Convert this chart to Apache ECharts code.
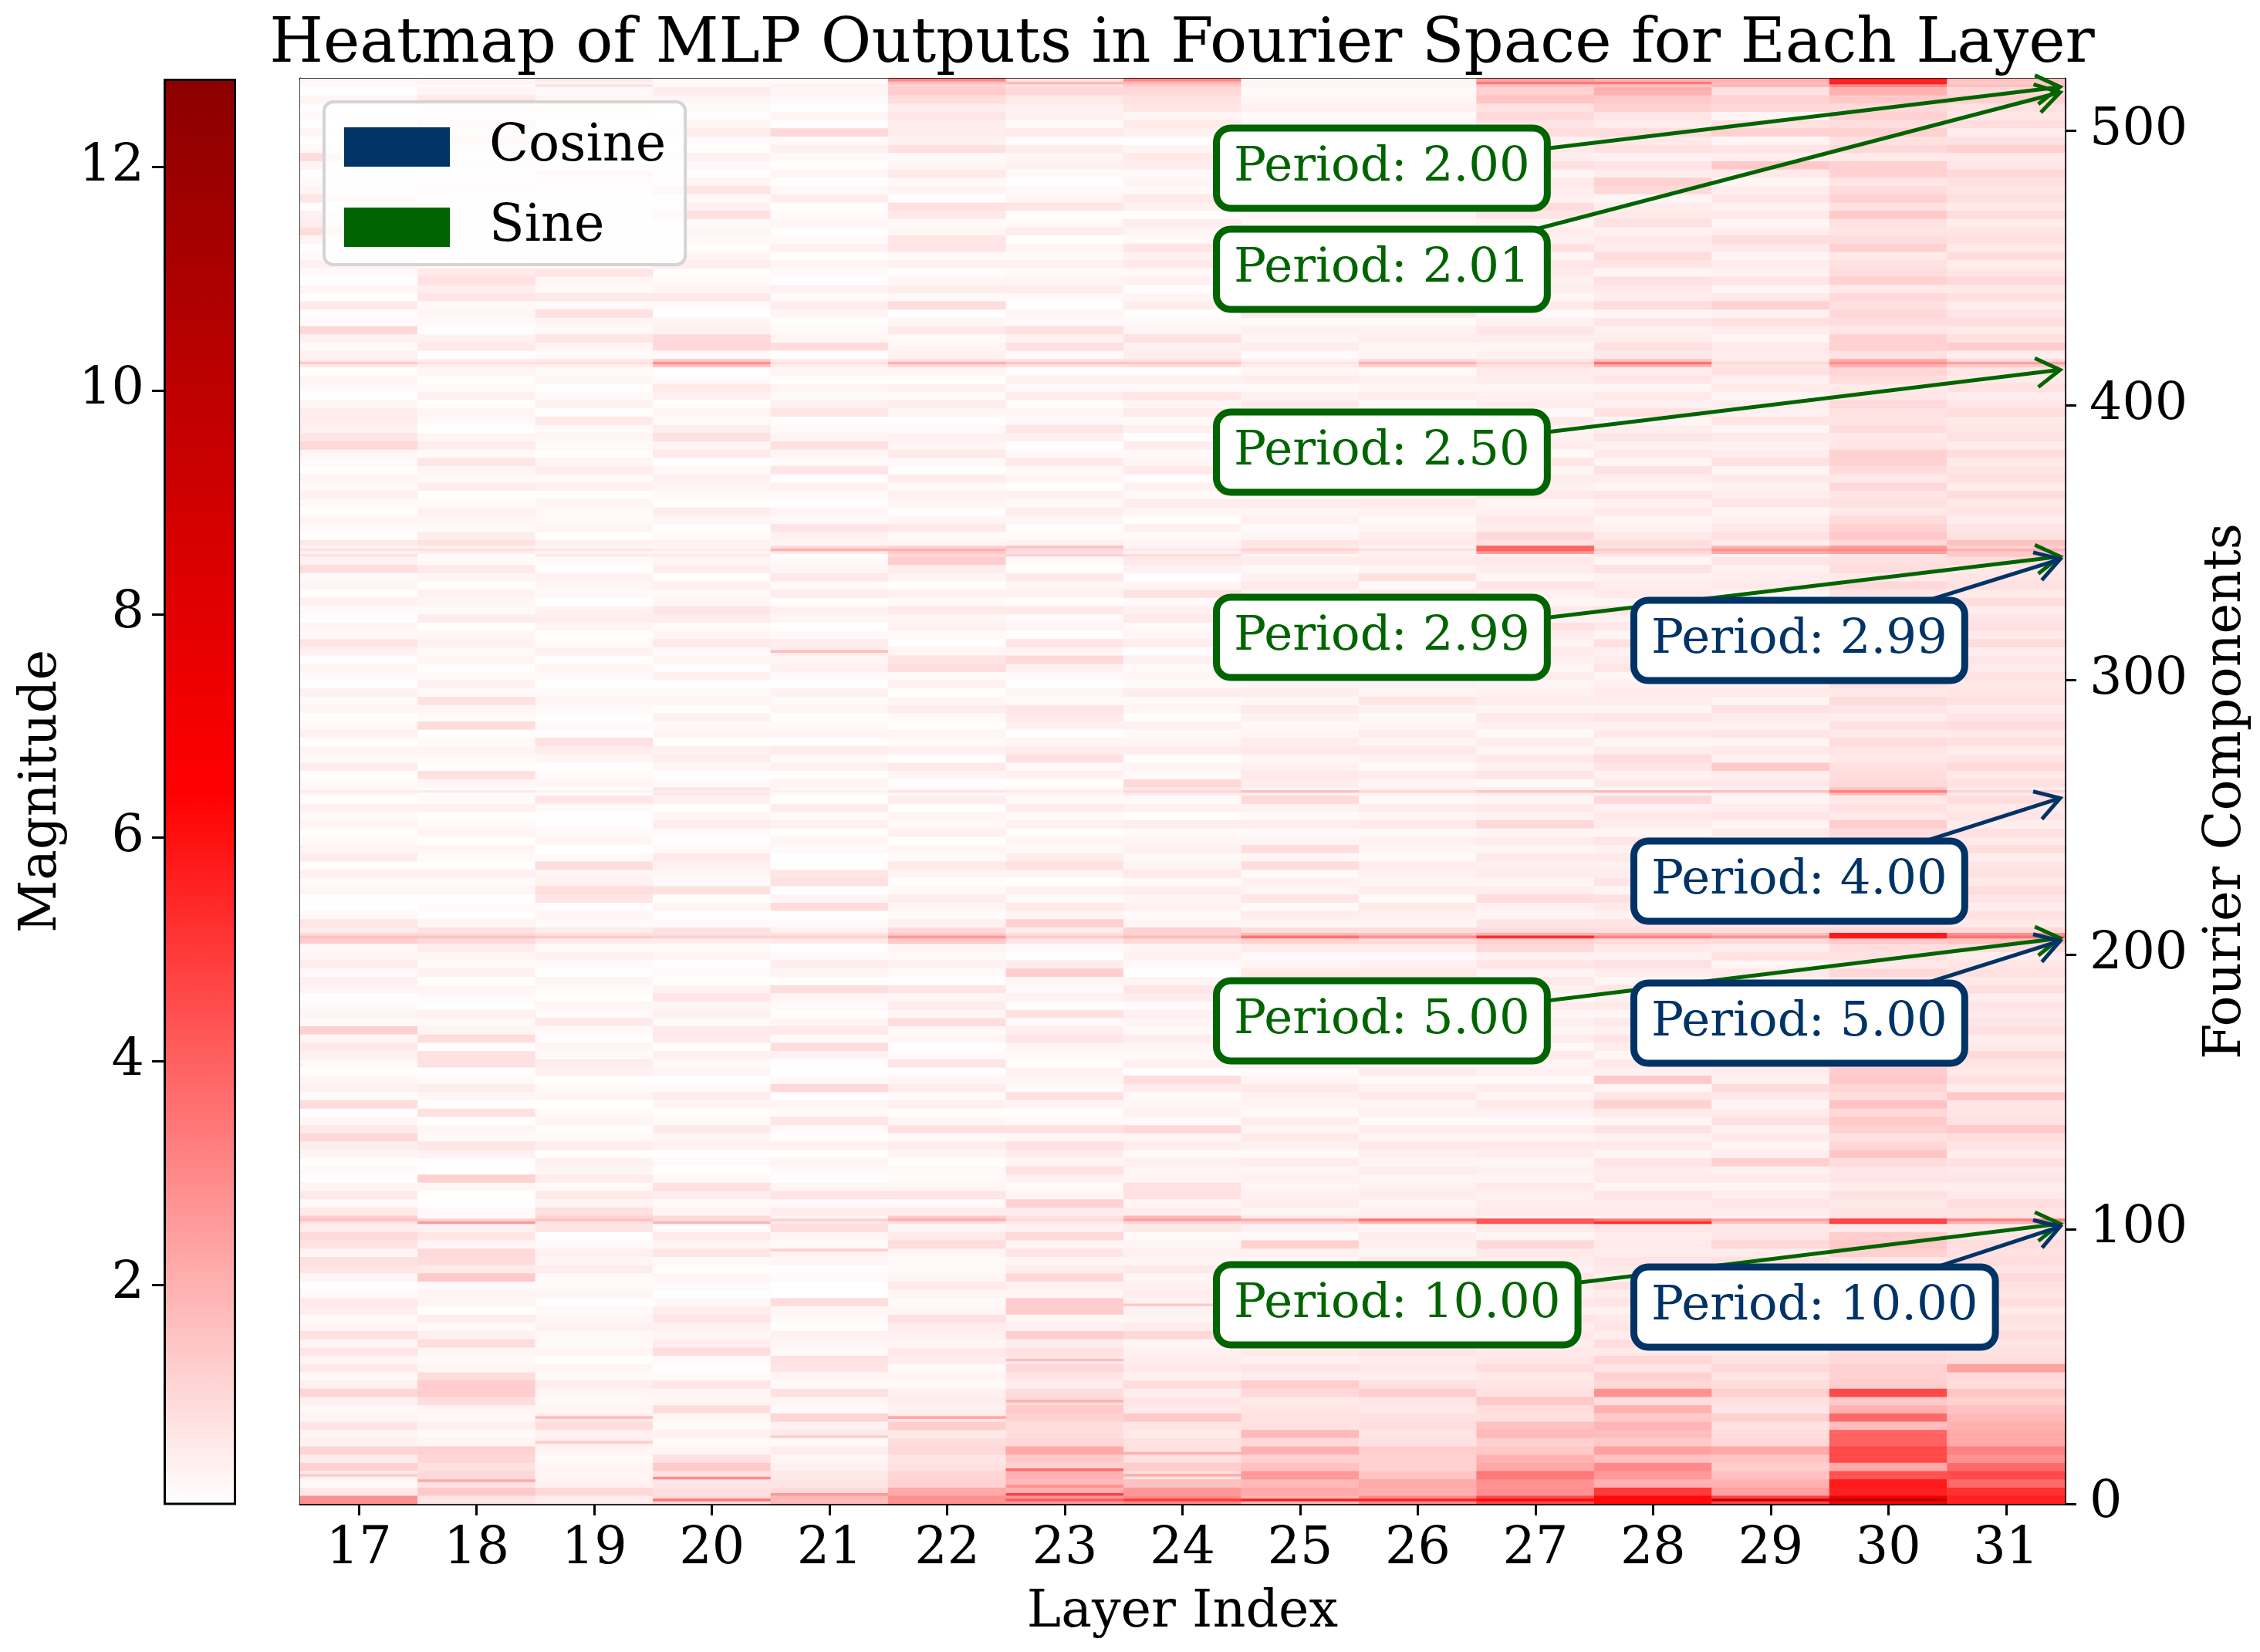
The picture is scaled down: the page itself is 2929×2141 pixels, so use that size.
<!DOCTYPE html>
<html>
<head>
<meta charset="utf-8">
<style>html,body{margin:0;padding:0;background:#fff}</style>
<script src="https://cdn.jsdelivr.net/npm/echarts@6/dist/echarts.min.js"></script>
</head>
<body>
<div id="chart" style="width:2929px;height:2141px"></div>
<script>
// values are read by eye, in tenths of magnitude, one per 3 rows, row 0 first
const layers = [17,18,19,20,21,22,23,24,25,26,27,28,29,30,31]
const layer17 = [
28,6,2,5,12,5,11,4,3,7,3,2,4,11,4,2,6,3,7,3,
8,3,2,5,6,2,1,3,7,8,3,8,10,5,13,6,2,6,3,1,
2,1,3,5,10,6,3,1,9,2,4,3,1,2,4,6,3,12,2,3,
2,1,3,4,2,5,3,2,13,5,7,2,0,1,3,2,4,1,5,3,
2,1,3,2,4,1,3,2,1,5,2,3,1,4,2,1,3,2,4,1,
2,3,1,4,7,2,3,1,2,4,1,3,2,9,4,8,6,1,2,3,
1,2,4,2,3,1,2,3,10,7,4,5,5,3,1,2,3,1,2,4,
2,4,10,2,1,6,1,3,1,2,4,2,1,3,9,5,4,1,7,3,
2,1,3,9,2,1,3,1,2,1,3,1,2]
const layer18 = [
7,14,8,10,8,11,12,3,2,4,2,3,9,13,13,9,3,2,3,9,
4,2,5,1,3,3,2,14,6,9,10,3,7,4,2,2,1,0,3,12,
0,1,4,7,2,3,1,8,1,3,5,2,1,8,8,1,9,3,2,4,
1,2,3,1,4,2,3,5,10,8,3,1,2,1,3,2,4,1,2,3,
1,3,2,1,4,2,1,3,8,1,2,3,2,1,9,2,3,8,2,4,
2,1,3,2,4,3,1,5,2,3,4,1,3,6,2,1,8,5,2,3,
4,2,1,5,2,3,7,2,5,3,1,2,3,1,4,2,1,3,2,1,
6,4,1,2,3,2,7,5,8,6,2,3,1,2,3,1,2,4,2,5,
3,1,4,2,5,8,4,7,3,5,6,3,1]
const layer19 = [
5,10,4,3,3,2,3,5,4,9,5,3,2,3,5,2,3,1,3,2,
2,4,3,2,1,3,2,2,5,3,4,2,0,7,11,8,3,6,2,5,
3,4,1,5,2,1,3,2,0,3,2,1,4,5,2,3,1,2,6,2,
3,1,2,3,1,2,4,2,6,5,2,3,1,7,9,4,3,9,2,0,
3,2,1,0,2,7,1,3,2,1,3,5,8,1,2,1,2,3,2,1,
2,3,1,4,2,1,3,5,4,1,2,3,4,1,2,6,4,1,3,2,
2,3,1,4,2,5,3,1,2,3,2,6,1,4,2,1,3,2,4,2,
3,7,2,3,8,2,6,2,3,7,1,4,2,1,3,1,2,3,1,2,
4,8,1,3,1,2,3,1,2,4,3,2,8]
const layer20 = [
10,8,7,8,14,8,3,2,4,2,3,9,3,3,7,2,1,2,9,5,
3,4,7,5,2,1,2,3,1,2,7,3,6,2,10,3,2,5,8,2,
0,2,1,4,3,6,2,1,3,5,2,1,3,2,4,1,6,6,2,4,
3,7,4,1,2,1,3,2,5,8,2,1,3,1,8,2,3,4,6,2,
1,2,5,3,1,4,7,2,1,3,5,4,1,3,2,4,1,3,2,1,
4,1,3,2,6,3,2,5,7,3,2,4,1,5,3,6,4,2,1,3,
5,1,2,3,4,2,1,6,3,8,5,2,3,1,4,6,2,1,3,2,
10,10,4,3,1,2,6,3,2,1,5,3,1,2,3,2,8,4,2,7,
3,1,2,4,1,2,5,3,1,2,3,5,2]
const layer21 = [
18,10,7,6,4,3,5,2,6,4,11,2,3,8,2,3,7,8,2,3,
4,1,2,3,9,0,0,2,1,3,4,2,3,9,3,5,2,7,3,1,
2,3,1,4,1,2,7,2,3,1,10,2,0,1,4,9,2,6,3,1,
2,3,9,1,3,5,2,1,6,4,2,1,9,3,1,8,7,1,0,2,
3,1,4,2,5,1,2,3,1,4,2,5,1,3,2,1,3,2,4,1,
2,4,3,5,5,2,1,3,4,1,5,2,6,3,2,1,3,4,7,2,
3,1,2,4,1,7,2,3,8,3,2,1,7,4,2,3,1,3,2,1,
9,3,2,1,3,5,2,4,1,2,3,1,4,2,1,3,2,1,5,2,
1,3,1,2,4,2,10,1,3,1,2,3,4]
const layer22 = [
28,22,12,11,8,7,10,9,6,13,6,4,5,4,2,3,2,5,6,3,
4,5,8,3,2,3,6,3,2,2,3,9,6,3,14,5,2,7,3,2,
2,1,3,5,2,8,3,1,4,2,5,3,1,7,2,1,3,2,9,3,
5,3,7,1,2,4,2,3,14,10,4,2,3,5,2,1,3,6,2,3,
1,4,2,3,1,5,2,1,3,6,1,4,2,3,1,2,5,3,1,4,
2,9,7,3,1,2,4,3,6,2,4,1,3,5,13,10,3,2,6,3,
1,3,4,2,5,1,2,6,3,4,2,1,3,5,2,4,1,3,2,4,
3,2,6,3,1,9,2,5,3,1,4,2,7,7,3,2,6,8,1,3,
2,6,3,2,8,4,5,5,7,5,9,13,12]
const layer23 = [
26,20,18,20,12,14,22,10,9,9,12,14,10,9,5,7,10,6,8,5,
13,4,3,13,13,3,4,10,5,3,7,3,10,4,8,5,12,3,2,4,
8,3,5,8,3,8,2,1,3,8,2,3,4,1,2,3,7,5,2,8,
1,4,2,3,13,5,1,2,7,5,12,3,6,2,4,1,3,8,5,2,
3,1,4,2,5,2,3,1,4,2,8,5,3,1,4,6,7,2,3,1,
2,4,10,3,7,1,3,2,6,1,4,3,6,1,2,12,4,2,1,3,
5,2,4,1,3,2,6,2,1,4,7,2,3,1,5,2,4,1,3,2,
8,4,8,2,3,1,2,5,3,2,4,2,3,1,5,2,1,7,3,2,
1,2,4,3,5,1,6,2,4,4,6,10,8]
const layer24 = [
30,26,16,8,13,8,8,8,6,7,14,6,7,5,9,4,6,5,4,3,
10,5,3,4,4,5,4,3,6,3,4,3,2,6,18,5,3,8,8,3,
3,4,2,5,3,10,2,4,3,2,5,9,1,4,2,3,5,2,3,4,
2,5,7,3,1,2,4,3,10,12,3,2,4,3,5,2,6,3,2,4,
3,2,5,1,4,2,6,10,2,3,1,5,3,2,4,1,3,2,5,2,
3,2,4,1,5,3,2,6,4,2,8,3,1,4,6,9,3,2,4,1,
3,5,2,4,1,6,3,2,5,1,4,2,6,3,7,2,4,1,3,5,
4,8,3,2,1,5,3,1,4,2,6,4,7,2,3,5,1,4,6,2,
3,2,5,6,3,1,4,6,3,7,8,10,14]
const layer25 = [
18,22,18,26,16,12,20,10,18,8,8,7,6,10,13,5,7,4,6,5,
5,6,5,3,5,4,3,5,3,3,4,12,2,4,6,3,5,4,3,4,
3,5,2,4,6,3,5,2,3,4,6,3,2,5,3,4,2,5,3,4,
2,5,3,4,6,3,2,5,12,9,3,5,2,7,3,4,2,9,3,9,
3,2,5,2,4,10,3,5,6,4,3,6,5,3,2,4,6,3,5,3,
4,2,5,3,6,2,4,3,5,2,3,6,4,2,5,3,7,3,2,4,
3,5,2,4,3,6,2,5,3,4,2,5,3,6,4,2,5,3,4,2,
5,3,4,2,6,3,2,5,4,3,2,4,6,3,5,2,3,4,2,3,
2,4,3,5,2,3,2,3,2,4,3,2,3]
const layer26 = [
30,20,22,15,12,12,13,8,7,9,8,6,7,13,8,5,6,5,7,5,
5,7,5,4,6,4,5,3,4,6,3,4,5,3,6,4,3,5,4,3,
5,3,4,6,3,5,2,4,3,6,4,2,5,3,4,6,3,2,5,3,
4,2,5,3,6,4,2,5,10,9,3,4,6,2,5,3,4,5,2,3,
4,2,6,3,5,2,4,3,5,2,4,6,3,5,3,2,4,7,3,4,
3,5,2,4,3,6,2,5,3,4,6,2,8,3,5,4,6,5,3,2,
4,6,3,5,2,4,3,5,6,2,4,3,6,2,5,3,4,2,5,3,
3,5,4,2,6,3,2,4,5,3,2,5,3,4,6,2,3,5,2,4,
3,5,2,3,4,2,5,3,2,4,3,2,3]
const layer27 = [
46,28,28,34,22,20,14,12,18,16,8,9,14,8,7,6,9,7,6,5,
6,5,7,4,6,4,5,7,4,5,6,10,3,5,4,6,5,4,6,3,
4,3,5,6,3,5,2,4,6,3,5,2,4,3,6,2,5,3,4,3,
5,2,4,6,3,7,4,10,12,9,7,3,4,9,5,3,5,4,6,3,
5,3,10,4,6,3,5,2,7,4,6,3,5,2,4,6,3,5,4,3,
5,3,4,6,3,5,8,4,6,3,4,7,3,5,6,4,8,10,5,6,
4,3,6,4,5,3,7,2,5,4,3,6,2,5,4,3,5,6,2,4,
3,5,7,4,2,6,3,5,4,6,7,3,8,4,5,3,7,9,4,5,
6,3,8,5,6,4,9,7,10,8,15,12,16]
const layer28 = [
62,50,20,26,30,16,24,14,17,19,14,20,9,28,10,12,7,11,6,9,
5,7,6,4,7,5,8,4,6,7,5,6,5,7,4,6,5,7,3,6,
5,7,3,6,4,8,3,6,12,7,3,14,4,6,3,5,7,4,6,3,
6,4,7,3,5,8,4,6,10,9,7,4,6,8,3,7,5,4,6,4,
7,3,5,6,4,10,3,6,4,7,9,5,3,6,4,7,3,5,6,4,
3,7,5,4,8,3,6,4,7,3,6,5,4,8,3,7,9,6,4,3,
6,4,7,3,5,8,3,6,4,7,5,3,8,4,6,3,7,5,3,6,
8,5,4,7,3,9,5,6,8,3,7,9,5,6,4,8,6,5,3,10,
12,5,7,4,8,6,9,5,7,12,14,20,16]
const layer29 = [
48,24,20,16,13,15,22,10,9,8,12,7,8,12,9,7,10,8,6,5,
7,5,8,6,4,7,5,6,4,8,5,10,7,6,4,5,7,5,3,6,
4,12,5,3,6,4,8,5,3,6,9,4,5,7,3,6,5,4,3,7,
5,3,7,4,6,3,8,5,10,9,6,4,7,3,5,8,4,6,3,5,
4,6,3,7,5,3,4,6,5,14,4,6,3,7,4,5,8,3,6,4,
5,3,7,4,6,3,5,8,4,7,3,6,5,4,7,3,5,8,6,4,
3,7,5,4,6,3,8,5,4,6,3,7,4,5,3,6,4,8,3,5,
6,3,5,8,4,12,6,3,7,4,5,3,6,9,5,3,6,4,7,5,
3,6,14,5,7,3,12,8,3,10,12,8,18]
const layer30 = [
70,56,58,44,22,46,46,40,40,17,38,20,14,46,13,12,12,10,9,8,
9,7,8,9,8,7,6,8,7,6,12,14,13,6,8,7,6,8,5,7,
7,9,15,10,8,12,14,10,16,9,11,14,13,7,9,6,8,10,7,9,
8,6,9,7,10,6,8,9,14,10,7,8,6,9,7,10,8,6,9,7,
7,9,13,6,8,6,16,10,9,8,6,7,9,6,8,5,7,9,6,8,
9,6,7,10,8,6,9,7,6,8,7,10,6,9,8,7,10,14,12,9,
6,8,7,10,6,9,12,12,7,6,9,7,8,10,7,6,9,11,7,8,
12,12,7,9,10,8,10,6,12,9,8,6,12,9,7,8,14,8,12,9,
7,12,12,6,10,8,12,9,12,10,14,20,30]
const layer31 = [
56,52,38,46,38,28,32,22,22,20,18,16,12,15,9,10,24,9,8,7,
9,7,8,6,9,7,8,10,7,9,8,9,7,6,8,7,9,6,5,7,
6,8,5,7,9,14,8,7,7,14,5,8,6,7,10,6,5,8,7,6,
7,5,9,6,8,7,5,9,16,10,6,8,5,7,9,6,8,7,5,9,
6,8,5,7,6,9,5,8,6,10,7,5,8,6,9,7,5,8,7,6,
8,6,7,5,9,6,8,7,5,9,6,8,7,6,9,14,16,8,7,5,
7,6,9,5,8,7,6,9,5,8,7,6,9,7,5,8,6,7,9,5,
13,8,6,9,7,5,8,6,10,7,5,9,6,8,7,5,9,6,8,7,
8,10,7,6,12,8,5,9,7,8,12,10,16]

// single rows that stand out across all layers, tenths of magnitude per layer
const lineRows = [1,102,103,206,207,259,346,347,348,414,415,416,517,518]
const lineValues = [
  [28,7,5,35,18,28,42,50,58,56,62,62,95,105,56],
  [8,26,8,19,6,8,6,10,12,18,43,53,16,48,20],
  [16,12,16,9,12,20,10,24,22,36,43,34,24,48,32],
  [16,16,14,12,12,26,14,18,36,28,53,32,28,58,36],
  [10,10,8,8,8,14,8,12,18,16,20,20,16,58,28],
  [6,6,4,5,4,7,5,10,16,10,15,18,15,32,12],
  [4,5,3,3,6,14,8,4,8,4,26,10,22,24,14],
  [8,8,7,5,20,20,10,6,12,8,40,14,28,30,20],
  [3,4,3,3,10,12,16,4,6,4,40,8,20,26,12],
  [6,5,5,16,5,10,8,9,5,12,8,20,7,20,14],
  [14,8,8,28,8,20,15,15,7,20,12,36,10,28,24],
  [5,5,6,14,5,8,8,8,4,10,7,16,6,22,10],
  [2,3,3,2,2,16,18,18,3,3,34,34,18,56,14],
  [3,3,6,2,2,30,8,30,3,3,24,20,20,56,16]
]

// thin stripes in one layer only
const stripeLayers = [17,18,19,19,20,21,21,21,21,22,23,23,23,23,23,24,24,24]
const stripeRows = [10,8,22,31,9,3,24,92,310,31,3,6,12,37,52,10,18,72]
const stripeValues = [13,22,13,17,30,26,13,13,17,22,48,28,38,20,17,21,20,14]

const rowCount = 519
const magMin = 0.04
const magMax = 12.79
const magTicks = [2,4,6,8,10,12]
const componentTicks = [0,100,200,300,400,500]

const sinePeriods = ['10.00','5.00','2.99','2.50','2.01','2.00']
const sineRows = [102,206,345,413,514,516]
const cosinePeriods = ['10.00','5.00','4.00','2.99']
const cosineRows = [101,205,257,344]

// annotation layout, pixels
const sineBoxY = [1691,1323,826,586,349,218]
const cosineBoxY = [1694,1326,1142,830]
const arrowX = 31.46
const cosineColor = '#003366'
const sineColor = '#006400'
const serif = '"DejaVu Serif"'
const LABEL_SIZE = 62.5

const allLayers = [layer17,layer18,layer19,layer20,layer21,layer22,layer23,layer24,layer25,layer26,layer27,layer28,layer29,layer30,layer31]

let cells = []
allLayers.forEach((vals, x) => {
  for (let r = 0; r < rowCount; r++) {
    let v = vals[Math.floor(r / 3)]
    let k = lineRows.indexOf(r)
    if (k >= 0) v = lineValues[k][x]
    cells.push([x, r, v / 10])
  }
})
stripeRows.forEach((r, i) => {
  cells[(stripeLayers[i] - layers[0]) * rowCount + r][2] = stripeValues[i] / 10
})
const rowNames = []
for (let r = 0; r < rowCount; r++) rowNames.push(String(r))

const measure = document.createElement('canvas').getContext('2d')
measure.font = LABEL_SIZE + 'px ' + serif

function annotation(color, boxLeft, periods) {
  return (params, api) => {
    const tip = api.coord([api.value(0), api.value(1)])
    const text = 'Period: ' + periods[params.dataIndex]
    const cy = api.value(2)
    const cx = boxLeft + measure.measureText(text).width / 2 + 18
    const ang = Math.atan2(cy - tip[1], cx - tip[0])
    const barb = a => [tip[0] + 36 * Math.cos(ang + a), tip[1] + 36 * Math.sin(ang + a)]
    const lineStyle = { stroke: color, lineWidth: 5, fill: 'none' }
    return {
      type: 'group',
      children: [
        { type: 'line', shape: { x1: cx, y1: cy, x2: tip[0], y2: tip[1] }, style: lineStyle },
        { type: 'polyline', shape: { points: [barb(0.55), tip, barb(-0.55)] }, style: lineStyle },
        { type: 'text', style: {
          text: text, x: boxLeft, y: cy, align: 'left', verticalAlign: 'middle',
          font: LABEL_SIZE + 'px ' + serif, fill: color,
          backgroundColor: '#fff', borderColor: color, borderWidth: 9, borderRadius: 14,
          padding: [16, 18, 16, 18]
        } }
      ]
    }
  }
}

const chart = echarts.init(document.getElementById('chart'), null, { renderer: 'canvas' })
const axisLine = { show: true, lineStyle: { color: '#000', width: 3 } }
const axisTick = { show: true, length: 15, lineStyle: { color: '#000', width: 3 } }
const nameStyle = { fontFamily: serif, fontSize: 66.7, color: '#000' }
const tickStyle = { fontFamily: serif, fontSize: 66.7, color: '#000' }

chart.setOption({
  animation: false,
  backgroundColor: '#fff',
  title: {
    text: 'Heatmap of MLP Outputs in Fourier Space for Each Layer',
    left: 1527, top: 14, textAlign: 'center',
    textStyle: { fontFamily: serif, fontSize: 80, fontWeight: 'normal', color: '#000' }
  },
  legend: {
    data: ['Cosine', 'Sine'], orient: 'vertical', left: 420, top: 132,
    padding: [25, 25, 15, 26], itemWidth: 137, itemHeight: 51, itemGap: 37,
    icon: 'rect', backgroundColor: 'rgba(255,255,255,0.8)',
    borderColor: '#d4d4d4', borderWidth: 4, borderRadius: 12,
    textStyle: { fontFamily: serif, fontSize: 66.7, color: '#000', padding: [0, 0, 0, 46] }
  },
  grid: [
    { left: 389, top: 102, width: 2287, height: 1847, outerBoundsMode: 'none' },
    { left: 212, top: 102, width: 94, height: 1847, outerBoundsMode: 'none' }
  ],
  xAxis: [
    { type: 'category', gridIndex: 0, data: layers, name: 'Layer Index', nameLocation: 'middle', nameGap: 108,
      nameTextStyle: nameStyle, axisLine: axisLine, axisTick: { ...axisTick, alignWithLabel: true },
      axisLabel: { ...tickStyle, margin: 26, interval: 0 }, splitLine: { show: false } },
    { type: 'value', gridIndex: 0, position: 'top', min: 16.5, max: 31.5, axisLine: axisLine,
      axisTick: { show: false }, axisLabel: { show: false }, splitLine: { show: false } },
    { type: 'category', gridIndex: 1, data: ['magnitude'], show: false }
  ],
  yAxis: [
    { type: 'category', gridIndex: 0, data: rowNames, position: 'left', axisLine: axisLine,
      axisTick: { show: false }, axisLabel: { show: false }, splitLine: { show: false } },
    { type: 'value', gridIndex: 0, position: 'right', min: 0, max: rowCount,
      name: 'Fourier Components', nameLocation: 'middle', nameRotate: 90, nameGap: 176, nameTextStyle: nameStyle,
      axisLine: axisLine, axisTick: { ...axisTick, customValues: componentTicks },
      axisLabel: { ...tickStyle, margin: 32, padding: [8, 0, 0, 0], customValues: componentTicks }, splitLine: { show: false } },
    { type: 'value', gridIndex: 1, position: 'left', min: magMin, max: magMax,
      name: 'Magnitude', nameLocation: 'middle', nameRotate: 90, nameGap: 124, nameTextStyle: nameStyle,
      axisLine: { show: false }, axisTick: { ...axisTick, customValues: magTicks },
      axisLabel: { ...tickStyle, margin: 25, customValues: magTicks }, splitLine: { show: false } }
  ],
  visualMap: {
    type: 'continuous', show: false, seriesIndex: 0, dimension: 2, min: magMin, max: magMax,
    inRange: { color: ['#ffffff', '#ff0000', '#8b0000'] }
  },
  series: [
    { type: 'heatmap', xAxisIndex: 0, yAxisIndex: 0, data: cells, progressive: 0, itemStyle: { borderWidth: 0 } },
    { type: 'bar', xAxisIndex: 2, yAxisIndex: 2, data: [magMax], barWidth: '100%',
      itemStyle: { borderColor: '#000', borderWidth: 3,
        color: new echarts.graphic.LinearGradient(0, 1, 0, 0, [
          { offset: 0, color: '#ffffff' }, { offset: 0.5, color: '#ff0000' }, { offset: 1, color: '#8b0000' }
        ]) } },
    { type: 'custom', name: 'Sine', xAxisIndex: 1, yAxisIndex: 1, z: 3, clip: false,
      itemStyle: { color: sineColor }, renderItem: annotation(sineColor, 1581, sinePeriods),
      data: sineRows.map((r, i) => [arrowX, r, sineBoxY[i]]) },
    { type: 'custom', name: 'Cosine', xAxisIndex: 1, yAxisIndex: 1, z: 4, clip: false,
      itemStyle: { color: cosineColor }, renderItem: annotation(cosineColor, 2122, cosinePeriods),
      data: cosineRows.map((r, i) => [arrowX, r, cosineBoxY[i]]) }
  ]
})
</script>
</body>
</html>
